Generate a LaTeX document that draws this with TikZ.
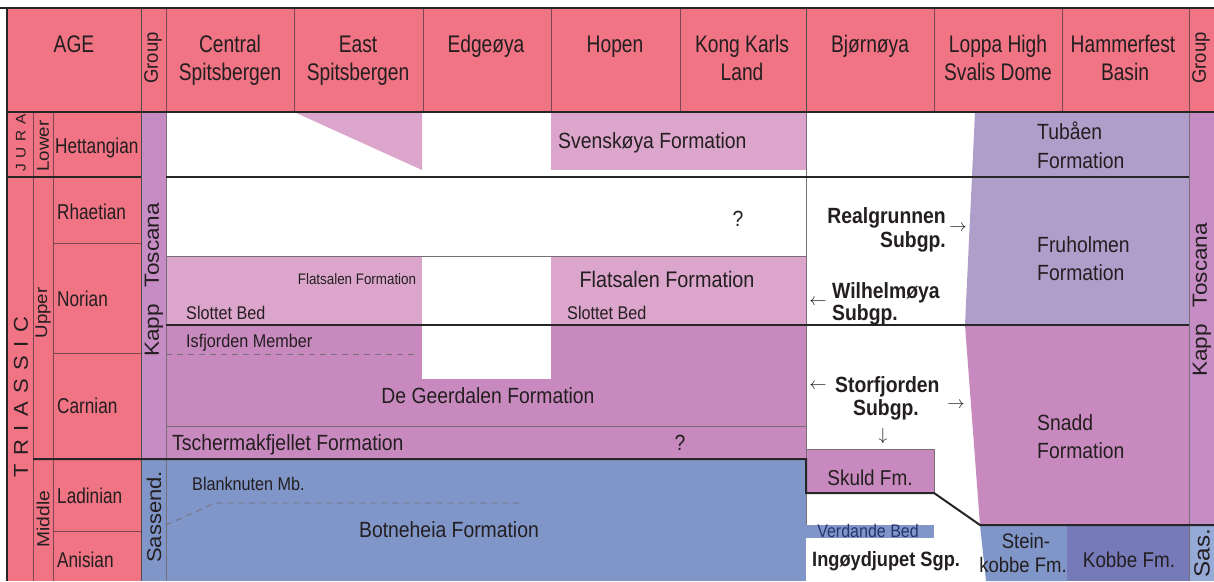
\documentclass[tikz,border=0pt]{standalone}
\usepackage{fontspec}
\setmainfont{Liberation Sans}
\newfontfamily\fA[FakeStretch=0.8]{Liberation Sans}
\newfontfamily\fB[FakeStretch=0.88]{Liberation Sans}
\newfontfamily\fC[FakeStretch=1.1]{Liberation Sans}
\newfontfamily\fE[FakeStretch=0.95]{Liberation Sans}
\definecolor{hpink}{RGB}{240,116,132}
\definecolor{grpv}{RGB}{198,140,196}
\definecolor{lpink}{RGB}{220,166,204}
\definecolor{geer}{RGB}{200,138,190}
\definecolor{lav}{RGB}{176,158,202}
\definecolor{botb}{RGB}{128,150,200}
\definecolor{kobb}{RGB}{118,122,184}
\definecolor{sasb}{RGB}{150,170,215}
\definecolor{txt}{RGB}{35,30,32}
\definecolor{navy}{RGB}{40,52,110}
\definecolor{sepl}{RGB}{125,70,82}
\definecolor{grl}{RGB}{120,110,120}
\tikzset{
 every node/.style={inner sep=0pt, text=txt},
 hd/.style={anchor=base, font=\fA\fontsize{24}{24}\selectfont},
 stg/.style={anchor=base west, font=\fA\fontsize{21.5}{21.5}\selectfont},
 rotlab/.style={rotate=90, anchor=center},
 fm/.style={anchor=base, font=\fB\fontsize{22}{22}\selectfont},
 fmw/.style={anchor=base west, font=\fB\fontsize{22}{22}\selectfont},
 mem/.style={anchor=base west, font=\fB\fontsize{18.4}{18.4}\selectfont},
 boldtx/.style={font=\fB\bfseries\fontsize{22}{22}\selectfont},
 arr/.style={font=\fontsize{17}{17}\selectfont, anchor=center},
 heavy/.style={line width=2pt, draw=black!85},
 thinl/.style={line width=0.8pt, draw=grl},
 sep/.style={line width=0.8pt, draw=sepl},
 dashl/.style={line width=0.8pt, draw=grl, dash pattern=on 6pt off 5pt},
}
\begin{document}
\begin{tikzpicture}[x=1pt,y=-1pt]
\useasboundingbox (0,0) rectangle (1214,581);
\fill[white] (0,0) rectangle (1214,581);
% header and age column
\fill[hpink] (7,9) rectangle (1214,112);
\fill[hpink] (7,112) rectangle (141,581);
% group columns
\fill[grpv] (141,112) rectangle (166,459);
\fill[botb] (141,459) rectangle (166,581);
\fill[grpv] (1189,112) rectangle (1214,525);
\fill[sasb] (1189,525) rectangle (1214,581);
% Jurassic
\fill[lpink] (294,112) -- (422,112) -- (422,170) -- cycle;
\fill[lpink] (551,112) rectangle (806,170);
% Norian / Carnian
\fill[lpink] (166,256) rectangle (806,325);
\fill[geer] (166,325) rectangle (806,459);
\fill[white] (422,256) rectangle (551,379);
% Middle Triassic
\fill[botb] (166,459) rectangle (806,581);
% Hammerfest side
\fill[lav] (975,112) -- (1189,112) -- (1189,325) -- (965,325) -- cycle;
\fill[geer] (965,325) -- (1189,325) -- (1189,525) -- (980,525) -- cycle;
\fill[botb] (980,525) -- (1067,525) -- (1067,581) -- (986,581) -- cycle;
\fill[kobb] (1067,525) rectangle (1189,581);
% Bjornoya
\filldraw[fill=geer, thinl] (806,449) rectangle (934,493);
\fill[botb] (806,525) rectangle (934,538);
\draw[thinl] (806,493) -- (806,525);
% thin lines
\draw[thinl] (166,256) -- (806,256);
\draw[thinl] (166,426) -- (806,426);
\draw[thinl] (806,112) -- (806,459);
\draw[thinl] (1189,112) -- (1189,581);
\draw[thinl] (166,112) -- (166,581);
\draw[dashl] (166,354) -- (415,354);
\draw[dashl] (166,525) -- (215,503) -- (520,503);
% age column lines
\draw[sep] (33,112) -- (33,581);
\draw[sep] (53,112) -- (53,581);
\draw[sep] (53,243) -- (141,243);
\draw[sep] (53,353) -- (141,353);
\draw[sep] (53,531) -- (141,531);
% header separators
\foreach \xx in {166,294,423,551,680,934,1062,1189} \draw[sep] (\xx,9) -- (\xx,112);
\draw[line width=1pt, draw=black!70] (141,9) -- (141,581);
\draw[line width=1pt, draw=black!70] (806,9) -- (806,112);
% heavy lines
\draw[heavy] (0,8) -- (1214,8);
\draw[line width=1.5pt, draw=black!85] (7,8) -- (7,581);
\draw[heavy] (7,112) -- (1214,112);
\draw[heavy] (7,177) -- (141,177);
\draw[heavy] (166,177) -- (1189,177);
\draw[heavy] (166,325) -- (1189,325);
\draw[heavy] (33,459) -- (806,459) -- (806,493) -- (934,493) -- (980,525) -- (1214,525);
% header text
\node[hd] (hage) at (74,52) {AGE};
\node[rotlab, font=\fE\fontsize{19.5}{19.5}\selectfont] (hgrp1) at (153,58) {Group};
\node[hd] (hcs1) at (230,52) {Central};
\node[hd] (hcs2) at (230,80) {Spitsbergen};
\node[hd] (hes1) at (358,52) {East};
\node[hd] (hes2) at (358,80) {Spitsbergen};
\node[hd] (hedg) at (486,52) {Edgeøya};
\node[hd] (hhop) at (615,52) {Hopen};
\node[hd] (hkk1) at (742,52) {Kong Karls};
\node[hd] (hkk2) at (742,80) {Land};
\node[hd] (hbj) at (870,52) {Bjørnøya};
\node[hd] (hlh1) at (998,52) {Loppa High};
\node[hd] (hlh2) at (998,80) {Svalis Dome};
\node[hd] (hhb1) at (1123,52) {Hammerfest};
\node[hd] (hhb2) at (1125,80) {Basin};
\node[rotlab, font=\fE\fontsize{19.5}{19.5}\selectfont] (hgrp2) at (1201,58) {Group};
% age column text
\node[rotlab, font=\fC\fontsize{14}{14}\selectfont] (jura) at (21,143) {J\hspace{5.5pt}U\hspace{5.5pt}R\hspace{5.5pt}A};
\node[rotlab, font=\fC\fontsize{20}{20}\selectfont] (trias) at (21,397) {T\hspace{8.5pt}R\hspace{8.5pt}I\hspace{8.5pt}A\hspace{8.5pt}S\hspace{8.5pt}S\hspace{8.5pt}I\hspace{8.5pt}C};
\node[rotlab, font=\fC\fontsize{17}{17}\selectfont] (lower) at (43,146) {Lower};
\node[rotlab, font=\fC\fontsize{17}{17}\selectfont] (upper) at (43,313) {Upper};
\node[rotlab, font=\fC\fontsize{17.5}{17.5}\selectfont] (middle) at (43,519) {Middle};
\node[stg] (shet) at (55,153) {Hettangian};
\node[stg] (srha) at (57,219) {Rhaetian};
\node[stg] (snor) at (57,306) {Norian};
\node[stg] (scar) at (57,413) {Carnian};
\node[stg] (slad) at (57,503) {Ladinian};
\node[stg] (sani) at (57,567) {Anisian};
% group text
\node[rotlab, font=\fC\fontsize{20.5}{20.5}\selectfont] (kt1) at (154,280) {Kapp\hspace{11pt} Toscana};
\node[rotlab, font=\fC\fontsize{20}{20}\selectfont] (sass) at (154,517) {Sassend.};
\node[rotlab, font=\fC\fontsize{20.5}{20.5}\selectfont] (kt2) at (1202,300) {Kapp\hspace{11pt} Toscana};
\node[rotlab, font=\fC\fontsize{22}{22}\selectfont] (sas2) at (1202,553) {Sas.};
% formations
\node[fmw] (sven) at (558,148) {Svenskøya Formation};
\node[fm] (q1) at (738,226) {?};
\node[fm, font=\fB\fontsize{22.5}{22.5}\selectfont] (flat2) at (667,287) {Flatsalen Formation};
\node[anchor=base, font=\fB\fontsize{15.2}{15.2}\selectfont] (flat1) at (357,284) {Flatsalen Formation};
\node[mem] (slot1) at (186,319) {Slottet Bed};
\node[mem] (slot2) at (567,319) {Slottet Bed};
\node[mem] (isf) at (186,347) {Isfjorden Member};
\node[fm] (geerd) at (488,403) {De Geerdalen Formation};
\node[fmw] (tsch) at (172,450) {Tschermakfjellet Formation};
\node[fm] (q2) at (680,450) {?};
\node[mem] (blank) at (192,490) {Blanknuten Mb.};
\node[fm] (botn) at (449,537) {Botneheia Formation};
\node[fmw] (tub1) at (1037,139) {Tubåen};
\node[fmw] (tub2) at (1037,168) {Formation};
\node[fmw] (fru1) at (1037,252) {Fruholmen};
\node[fmw] (fru2) at (1037,280) {Formation};
\node[fmw] (sna1) at (1037,430) {Snadd};
\node[fmw] (sna2) at (1037,458) {Formation};
\node[fm, font=\fB\fontsize{21.5}{21.5}\selectfont] (skuld) at (870,485) {Skuld Fm.};
\node[anchor=base, font=\fB\fontsize{18.2}{18.2}\selectfont, text=navy] (verd) at (868,537) {Verdande Bed};
\node[anchor=base west, font=\fB\bfseries\fontsize{20.7}{20.7}\selectfont] (ingo) at (812,566) {Ingøydjupet Sgp.};
\node[fm, font=\fB\fontsize{21}{21}\selectfont] (st1) at (1026,548) {Stein-};
\node[fm, font=\fB\fontsize{21}{21}\selectfont] (st2) at (1023,572) {kobbe Fm.};
\node[fm, font=\fB\fontsize{21.4}{21.4}\selectfont] (kob) at (1129,567) {Kobbe Fm.};
% Bjornoya subgroups
\node[boldtx, anchor=base east] (real1) at (946,223) {Realgrunnen};
\node[boldtx, anchor=base east] (real2) at (946,247) {Subgp.};
\node[arr] (ar1) at (958,228) {$\rightarrow$};
\node[arr] (ar2) at (818,302) {$\leftarrow$};
\node[boldtx, anchor=base west] (wil1) at (832,298) {Wilhelmøya};
\node[boldtx, anchor=base west] (wil2) at (832,320) {Subgp.};
\node[arr] (ar3) at (818,386) {$\leftarrow$};
\node[boldtx, anchor=base west] (sto1) at (835,392) {Storfjorden};
\node[boldtx, anchor=base west] (sto2) at (853,415) {Subgp.};
\node[arr] (ar4) at (956,405) {$\rightarrow$};
\node[arr] (ar5) at (883,436) {$\downarrow$};
\end{tikzpicture}
\end{document}
